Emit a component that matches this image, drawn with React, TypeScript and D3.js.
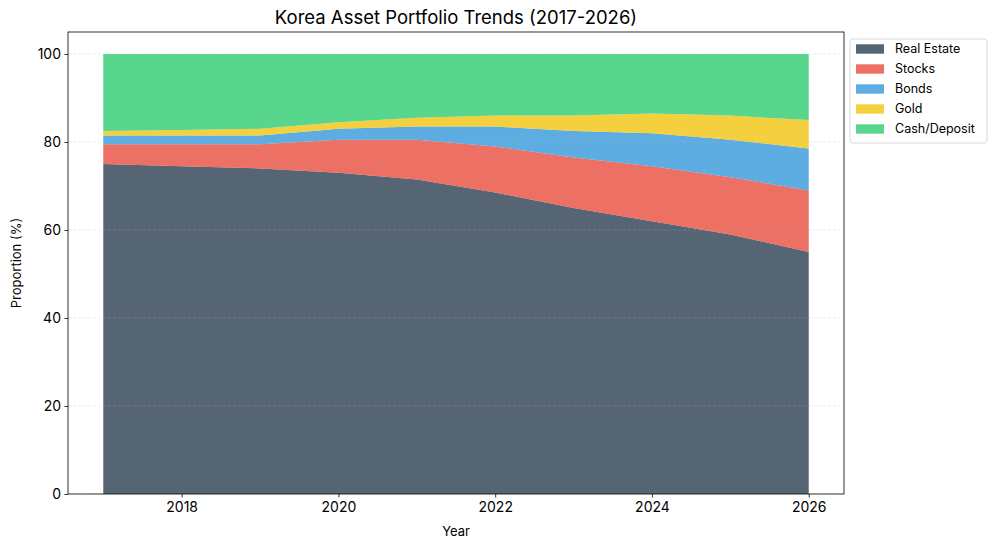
import React, { useEffect, useRef } from "react";
import * as d3 from "d3";

// Values (percent of portfolio)
const YEARS = [2017, 2018, 2019, 2020, 2021, 2022, 2023, 2024, 2025, 2026];
const REAL_ESTATE = [75, 74.5, 74, 73, 71.5, 68.5, 65, 62, 59, 55];
const STOCKS = [4.5, 5, 5.5, 7.5, 9, 10.5, 11.5, 12.5, 13, 14];
const BONDS = [2, 2, 2, 2.5, 3, 4.5, 6, 7.5, 8.5, 9.5];
const GOLD = [1, 1.2, 1.5, 1.5, 2, 2.5, 3.5, 4.5, 5.5, 6.5];
const CASH = YEARS.map((_, i) => 100 - REAL_ESTATE[i] - STOCKS[i] - BONDS[i] - GOLD[i]);

const KEYS = ["Real Estate", "Stocks", "Bonds", "Gold", "Cash/Deposit"];
const COLORS = ["#2c3e50", "#e74c3c", "#3498db", "#f1c40f", "#2ecc71"];
const Y_TICKS = [0, 20, 40, 60, 80, 100];
const X_TICKS = [2018, 2020, 2022, 2024, 2026];

const FONT = "Inter, 'Noto Sans', sans-serif";

export default function App() {
    const svgRef = useRef<SVGSVGElement>(null);

    useEffect(() => {
        if (!svgRef.current) return;
        const W = 995;
        const H = 549;
        const M = { top: 32, right: 151, bottom: 55, left: 68 };
        const iW = W - M.left - M.right;
        const iH = H - M.top - M.bottom;

        const svg = d3.select(svgRef.current);
        svg.selectAll("*").remove();
        svg.attr("width", W).attr("height", H).attr("viewBox", `0 0 ${W} ${H}`);

        const rows = YEARS.map((y, i) => ({
            year: y,
            "Real Estate": REAL_ESTATE[i],
            Stocks: STOCKS[i],
            Bonds: BONDS[i],
            Gold: GOLD[i],
            "Cash/Deposit": CASH[i],
        }));

        const x = d3.scaleLinear().domain([2016.55, 2026.45]).range([0, iW]);
        const y = d3.scaleLinear().domain([0, 105]).range([iH, 0]);

        const g = svg.append("g").attr("transform", `translate(${M.left},${M.top})`);

        // Áreas empilhadas
        const series = d3.stack<any>().keys(KEYS)(rows);
        const area = d3.area<any>()
            .x((d) => x(d.data.year))
            .y0((d) => y(d[0]))
            .y1((d) => y(d[1]));

        g.selectAll(".layer")
            .data(series)
            .enter()
            .append("path")
            .attr("class", "layer")
            .attr("d", area)
            .attr("fill", (_d, i) => COLORS[i])
            .attr("fill-opacity", 0.8);

        // Grid horizontal
        g.append("g")
            .selectAll("line")
            .data(Y_TICKS)
            .enter()
            .append("line")
            .attr("x1", 0).attr("x2", iW)
            .attr("y1", (d) => y(d)).attr("y2", (d) => y(d))
            .attr("stroke", "#b0b0b0")
            .attr("stroke-opacity", 0.3)
            .attr("stroke-width", 0.8)
            .attr("stroke-dasharray", "3 2");

        // Eixo Y
        const yAxis = g.append("g")
            .call(d3.axisLeft(y).tickValues(Y_TICKS).tickSize(3.5).tickPadding(3.5).tickFormat(d3.format("d")));
        yAxis.select(".domain").remove();
        yAxis.selectAll("text")
            .attr("font-size", "14px")
            .attr("font-family", FONT)
            .attr("fill", "#000");
        yAxis.selectAll("line").attr("stroke", "#000").attr("stroke-width", 0.8);

        // Eixo X
        const xAxis = g.append("g")
            .attr("transform", `translate(0,${iH})`)
            .call(d3.axisBottom(x).tickValues(X_TICKS).tickSize(3.5).tickPadding(5).tickFormat(d3.format("d")));
        xAxis.select(".domain").remove();
        xAxis.selectAll("text")
            .attr("font-size", "14px")
            .attr("font-family", FONT)
            .attr("fill", "#000");
        xAxis.selectAll("line").attr("stroke", "#000").attr("stroke-width", 0.8);

        // Moldura
        g.append("rect")
            .attr("x", 0).attr("y", 0)
            .attr("width", iW).attr("height", iH)
            .attr("fill", "none")
            .attr("stroke", "#000")
            .attr("stroke-width", 0.8);

        // Títulos
        svg.append("text")
            .attr("x", M.left + iW / 2).attr("y", 24)
            .attr("text-anchor", "middle")
            .attr("font-size", "18.5px")
            .attr("font-family", FONT)
            .text("Korea Asset Portfolio Trends (2017-2026)");

        svg.append("text")
            .attr("x", M.left + iW / 2).attr("y", 536)
            .attr("text-anchor", "middle")
            .attr("font-size", "13px")
            .attr("font-family", FONT)
            .text("Year");

        svg.append("text")
            .attr("transform", `translate(21,${M.top + iH / 2}) rotate(-90)`)
            .attr("text-anchor", "middle")
            .attr("font-size", "13px")
            .attr("font-family", FONT)
            .text("Proportion (%)");

        // Legenda
        const lg = svg.append("g").attr("transform", "translate(850,39)");
        lg.append("rect")
            .attr("width", 137).attr("height", 104)
            .attr("rx", 3)
            .attr("fill", "#fff")
            .attr("fill-opacity", 0.8)
            .attr("stroke", "#d0d0d0")
            .attr("stroke-width", 0.8);
        KEYS.forEach((k, i) => {
            const row = lg.append("g").attr("transform", `translate(0,${10 + i * 20})`);
            row.append("rect")
                .attr("x", 6).attr("y", -4.7)
                .attr("width", 28).attr("height", 9.4)
                .attr("fill", COLORS[i])
                .attr("fill-opacity", 0.8);
            row.append("text")
                .attr("x", 45).attr("y", 4.2)
                .attr("font-size", "12.5px")
                .attr("font-family", FONT)
                .text(k);
        });
    }, []);

    return (
        <div style={{ position: "fixed", left: 0, top: 0, background: "#fff" }}>
            <svg ref={svgRef} />
        </div>
    );
}
